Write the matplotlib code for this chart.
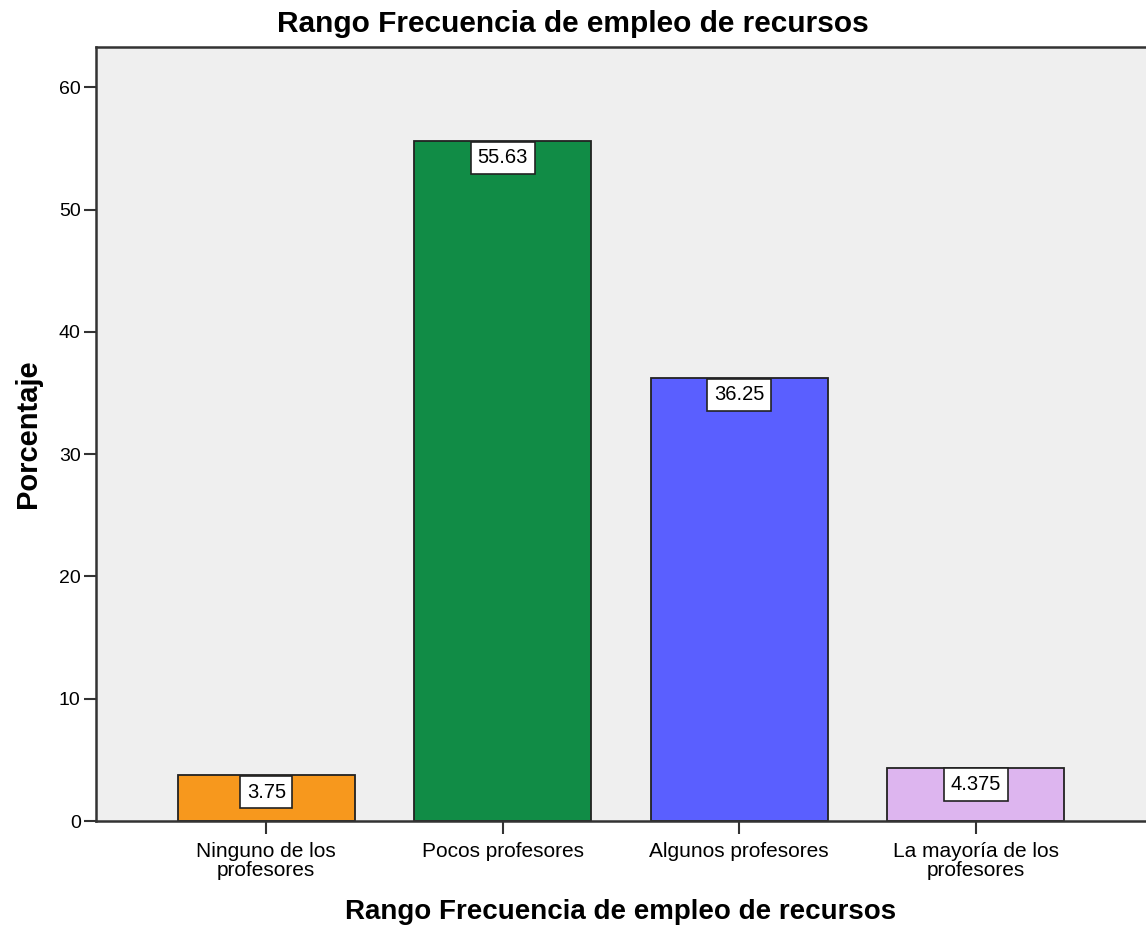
import matplotlib.pyplot as plt

plt.rcParams['font.family'] = ['Liberation Sans', 'DejaVu Sans']

categorias = ["Ninguno de los\nprofesores", "Pocos profesores",
              "Algunos profesores", "La mayoría de los\nprofesores"]
porcentajes = [3.75, 55.63, 36.25, 4.375]
etiquetas = ["3.75", "55.63", "36.25", "4.375"]
colores = ["#F7981D", "#118C46", "#5A5FFF", "#DDB5EF"]

fig = plt.figure(figsize=(11.46, 9.33), dpi=100)
ax = fig.add_axes([96 / 1146, 1 - 821 / 933, 1 - 96 / 1146, (821 - 47) / 933])
ax.set_facecolor("#EFEFEF")

pos = list(range(len(categorias)))
ax.bar(pos, porcentajes, width=0.75, color=colores, edgecolor="#222222", linewidth=1.3, zorder=2)

# etiquetas de valor en caja blanca pegada al borde superior de cada barra
for x, v, t in zip(pos, porcentajes, etiquetas):
    ax.annotate(t, xy=(x, v), xytext=(0, -5.5), textcoords="offset points",
                ha="center", va="top", fontsize=14.5, zorder=3,
                bbox=dict(boxstyle="square,pad=0.33", fc="white", ec="#222222", lw=1.2))

ax.set_xlim(-0.72, 3.72)
ax.set_ylim(0, 63.3)
ax.set_yticks(range(0, 61, 10))
ax.set_xticks(pos)
ax.set_xticklabels(categorias, fontsize=15, linespacing=1.0)
ax.tick_params(axis="y", labelsize=14, length=9, width=1.5, color="#333333", pad=2)
ax.tick_params(axis="x", length=9, width=1.5, color="#333333", pad=6)

for s in ["left", "bottom", "top"]:
    ax.spines[s].set_linewidth(1.8)
    ax.spines[s].set_color("#333333")
ax.spines["right"].set_visible(False)

ax.set_xlabel("Rango Frecuencia de empleo de recursos", fontsize=20, fontweight="bold", labelpad=14)
ax.set_ylabel("Porcentaje", fontsize=21, fontweight="bold", labelpad=12)
fig.text(0.5, 1 - 24 / 933, "Rango Frecuencia de empleo de recursos",
         ha="center", va="center", fontsize=21.5, fontweight="bold")

fig.savefig("out.png", dpi=100)
